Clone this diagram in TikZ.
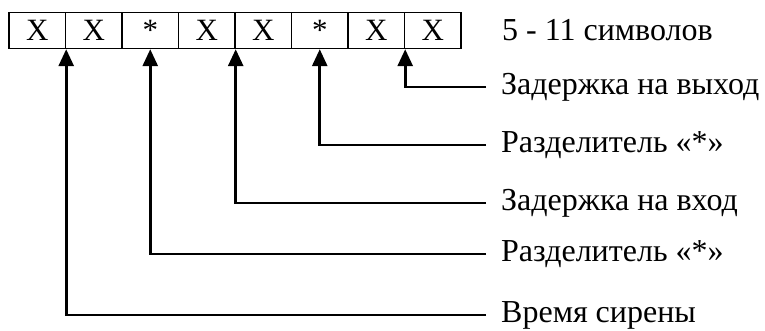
\documentclass[tikz,border=0pt]{standalone}
\usepackage{fontspec}
\setmainfont{Liberation Serif}
\usetikzlibrary{arrows.meta}
\begin{document}
\begin{tikzpicture}[x=1pt,y=1pt,
  cell/.style={draw,line width=1.4pt,minimum width=56.5pt,minimum height=36pt,inner sep=0pt,font=\fontsize{31}{33}\selectfont},
  lbl/.style={anchor=west,inner xsep=15pt,inner ysep=0pt,font=\fontsize{32}{35}\selectfont},
  conn/.style={line width=2.8pt,-{Triangle[length=17pt,width=15pt]}}]
\useasboundingbox (0,0) rectangle (765,-331);
\foreach \i/\t in {1/X,2/X,3/*,4/X,5/X,6/*,7/X,8/X}
  \node[cell] (c\i) at ({9+56.5*(\i-0.5)},-30.5) {\t};
\node[lbl] (t) at (487,-30) {5 - 11 символов};
\node[lbl] (l1) at (486,-87) {Задержка на выход};
\node[lbl] (l2) at (486,-145) {Разделитель «*»};
\node[lbl] (l3) at (486,-203) {Задержка на вход};
\node[lbl] (l4) at (486,-254) {Разделитель «*»};
\node[lbl] (l5) at (486,-315) {Время сирены};
\draw[conn] (l1.west) -| (c7.south east);
\draw[conn] (l2.west) -| (c6.south);
\draw[conn] (l3.west) -| (c4.south east);
\draw[conn] (l4.west) -| (c3.south);
\draw[conn] (l5.west) -| (c1.south east);
\end{tikzpicture}
\end{document}
